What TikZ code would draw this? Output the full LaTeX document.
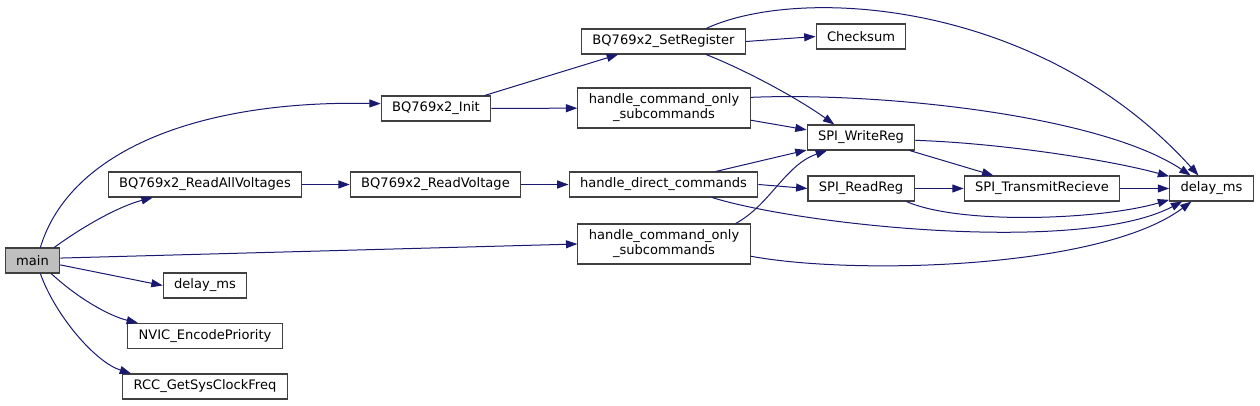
\documentclass[tikz,border=0pt]{standalone}
\usepackage{fontspec}
\setmainfont{DejaVu Sans}
\usetikzlibrary{arrows.meta}
\definecolor{myedge}{rgb}{0.1,0.1,0.44}
\definecolor{myframe}{rgb}{0.25,0.25,0.25}
\definecolor{myroot}{rgb}{0.75,0.75,0.75}

\begin{document}
\begin{tikzpicture}[x=0.75pt,y=-0.75pt,
  fn/.style={draw=myframe,line width=0.8pt,fill=white,inner xsep=8.2pt,inner ysep=0pt,
    minimum height=18.75pt,font=\fontsize{9.8}{11.3}\selectfont,align=center},
  fnroot/.style={fn,fill=myroot},
  call/.style={draw=myedge,line width=0.75pt,-{Triangle[length=8.5pt,width=6pt]}}]
  \useasboundingbox (0,0) rectangle (1260,406);
  \node[fnroot] (main) at (32.5,260.5) {main};
  \node[fn] (readall) at (205,184.5) {BQ769x2\_ReadAllVoltages};
  \node[fn] (delaya) at (205,285.5) {delay\_ms};
  \node[fn] (nvic) at (205,336) {NVIC\_EncodePriority};
  \node[fn] (rcc) at (205,386.5) {RCC\_GetSysClockFreq};
  \node[fn] (initfn) at (436,108.5) {BQ769x2\_Init};
  \node[fn] (readvolt) at (435.5,184.5) {BQ769x2\_ReadVoltage};
  \node[fn] (setreg) at (663.5,41.5) {BQ769x2\_SetRegister};
  \node[fn,minimum height=30pt] (cmdonlya) at (664,108) {handle\_command\_only\\\_subcommands};
  \node[fn] (directcmd) at (663.5,184.5) {handle\_direct\_commands};
  \node[fn,minimum height=30pt] (cmdonlyb) at (664,244) {handle\_command\_only\\\_subcommands};
  \node[fn] (checksum) at (861,36.5) {Checksum};
  \node[fn] (writereg) at (861,137.5) {SPI\_WriteReg};
  \node[fn] (readreg) at (861,188.5) {SPI\_ReadReg};
  \node[fn] (transmit) at (1042,188.5) {SPI\_TransmitRecieve};
  \node[fn] (delayb) at (1211.5,188.5) {delay\_ms};

  \draw[call] (main.59) .. controls (70,150) and (200,100) .. (initfn.175);
  \draw[call] (main.31) .. controls (85,225) and (120,206) .. (readall.-166);
  \draw[call] (main.5) -- (cmdonlyb.west);
  \draw[call] (main.-9) -- (delaya.west);
  \draw[call] (main.-35) .. controls (80,300) and (110,316) .. (nvic.169);
  \draw[call] (main.-59) .. controls (55,315) and (95,362) .. (rcc.170);
  \draw[call] (readall) -- (readvolt);
  \draw[call] (readvolt) -- (directcmd);
  \draw[call] (initfn.15) -- (setreg.-164);
  \draw[call] (initfn) -- (cmdonlya);
  \draw[call] (setreg.east) -- (checksum.west);
  \draw[call] (setreg.-17) .. controls (750,72) and (800,100) .. (writereg.154);
  \draw[call] (setreg.17) .. controls (800,-15) and (1040,0) .. (delayb.135);
  \draw[call] (cmdonlya.-8) -- (writereg.172);
  \draw[call] (cmdonlya.7) .. controls (880,92) and (1100,115) .. (delayb.148);
  \draw[call] (directcmd.14) -- (writereg.-167);
  \draw[call] (directcmd.east) -- (readreg.west);
  \draw[call] (directcmd.-15) .. controls (800,225) and (1080,255) .. (delayb.-156);
  \draw[call] (cmdonlyb.16) .. controls (770,205) and (785,165) .. (writereg.-159);
  \draw[call] (cmdonlyb.-8) .. controls (850,275) and (1100,270) .. (delayb.-147);
  \draw[call] (writereg.-15) -- (transmit.165);
  \draw[call] (writereg.-3) .. controls (1000,143) and (1110,160) .. (delayb.164);
  \draw[call] (readreg) -- (transmit);
  \draw[call] (readreg.-16) .. controls (960,225) and (1100,220) .. (delayb.-165);
  \draw[call] (transmit) -- (delayb);
\end{tikzpicture}
\end{document}
